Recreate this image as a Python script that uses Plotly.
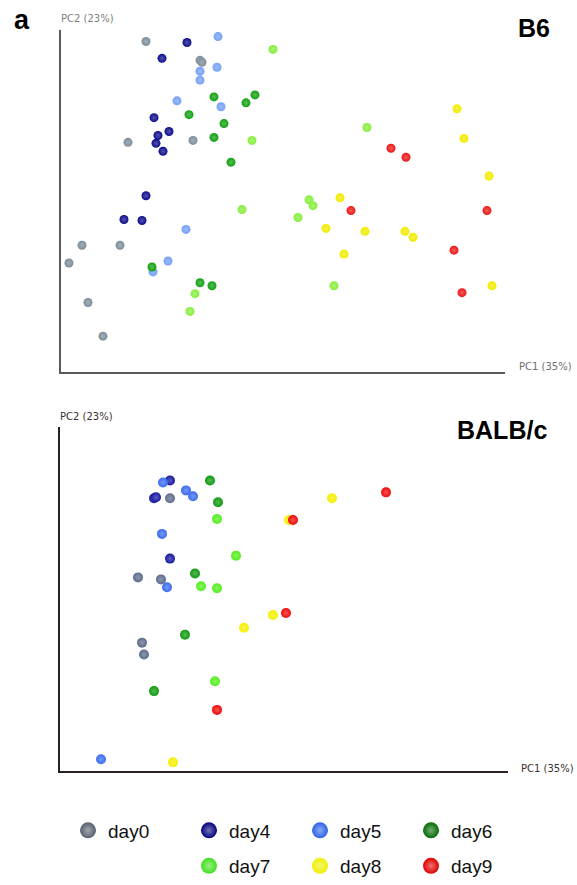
import plotly.graph_objects as go

W, H = 577, 885

days = ["day0", "day4", "day5", "day6", "day7", "day8", "day9"]

# ---- B6 panel: PC1 / PC2 scores (arbitrary units) ----
b6_pc1 = {
    "day0": [85, 139, 141, 67, 132, 21, 59, 8, 27, 42],
    "day4": [126, 101, 93, 108, 97, 95, 102, 85, 63, 81],
    "day5": [157, 156, 139, 139, 116, 160, 125, 107, 92],
    "day6": [153, 194, 185, 128, 163, 153, 170, 91, 139, 151],
    "day7": [212, 191, 306, 181, 237, 248, 252, 134, 129, 273],
    "day8": [396, 403, 428, 279, 265, 304, 344, 352, 283, 431],
    "day9": [330, 345, 290, 426, 393, 401],
}
b6_pc2 = {
    "day0": [334, 315, 313, 232, 234, 128, 128, 110, 70, 36],
    "day4": [333, 317, 257, 243, 239, 231, 223, 178, 154, 153],
    "day5": [339, 308, 304, 295, 274, 268, 144, 112, 101],
    "day6": [278, 280, 272, 260, 251, 237, 212, 106, 90, 87],
    "day7": [326, 234, 247, 164, 156, 174, 168, 79, 61, 87],
    "day8": [266, 236, 198, 176, 145, 142, 142, 136, 119, 87],
    "day9": [226, 217, 163, 163, 123, 80],
}

# ---- BALB/c panel ----
balb_pc1 = {
    "day0": [110, 78, 101, 82, 84],
    "day4": [110, 94, 96, 110],
    "day5": [103, 126, 133, 102, 107, 41],
    "day6": [150, 158, 135, 125, 94],
    "day7": [157, 176, 141, 157, 155],
    "day8": [229, 272, 213, 184, 113],
    "day9": [233, 326, 226, 157],
}
balb_pc2 = {
    "day0": [276, 196, 194, 130, 118],
    "day4": [294, 276, 277, 215],
    "day5": [292, 284, 278, 240, 186, 12],
    "day6": [294, 272, 200, 138, 81],
    "day7": [255, 218, 187, 185, 91],
    "day8": [254, 276, 158, 145, 9],
    "day9": [254, 282, 160, 62],
}

b6_colors = {"day0": "#7c8d99", "day4": "#0c0c8c", "day5": "#74a0f6", "day6": "#12a012",
             "day7": "#86ee3c", "day8": "#f2ec00", "day9": "#ee1616"}
balb_colors = {"day0": "#5d6b8c", "day4": "#1818a4", "day5": "#3a6cf0", "day6": "#0f9a0f",
               "day7": "#55ee20", "day8": "#f5f000", "day9": "#f00a0a"}
legend_colors = {"day0": "#56616d", "day4": "#02027e", "day5": "#2d62e8", "day6": "#046a04",
                 "day7": "#42e020", "day8": "#f0f000", "day9": "#e00000"}


def lighten(hexc, f):
    h = hexc.lstrip("#")
    r, g, b = (int(h[i:i + 2], 16) for i in (0, 2, 4))
    r, g, b = (int(c + (255 - c) * f) for c in (r, g, b))
    return "#%02x%02x%02x" % (r, g, b)


fig = go.Figure()

for d in days:
    fig.add_trace(go.Scatter(
        x=b6_pc1[d], y=b6_pc2[d], mode="markers", name=d, showlegend=False,
        xaxis="x", yaxis="y", cliponaxis=False, hoverinfo="skip",
        marker=dict(size=9, color=b6_colors[d], line=dict(width=0),
                    gradient=dict(type="radial", color=lighten(b6_colors[d], 0.3))),
    ))
for d in days:
    fig.add_trace(go.Scatter(
        x=balb_pc1[d], y=balb_pc2[d], mode="markers", name=d, showlegend=False,
        xaxis="x2", yaxis="y2", cliponaxis=False, hoverinfo="skip",
        marker=dict(size=10, color=balb_colors[d], line=dict(width=0),
                    gradient=dict(type="radial", color=lighten(balb_colors[d], 0.3))),
    ))

# legend-only entries
legend_of = {"day0": "legend", "day4": "legend2", "day5": "legend2", "day6": "legend2",
             "day7": "legend3", "day8": "legend3", "day9": "legend3"}
for d in days:
    fig.add_trace(go.Scatter(
        x=[None], y=[None], mode="markers", name=d, legend=legend_of[d],
        xaxis="x2", yaxis="y2",
        marker=dict(size=16, color=legend_colors[d], line=dict(width=0),
                    gradient=dict(type="radial", color=lighten(legend_colors[d], 0.45))),
    ))

ax_common = dict(showline=True, linewidth=2, showgrid=False, zeroline=False,
                 showticklabels=False, ticks="", fixedrange=True)

leg_common = dict(orientation="h", font=dict(family="Arial, Liberation Sans", size=19, color="#111"),
                  bgcolor="rgba(0,0,0,0)", borderwidth=0, itemsizing="trace",
                  entrywidthmode="pixels", entrywidth=66, xanchor="left", yanchor="middle",
                  itemclick=False, itemdoubleclick=False)

fig.update_layout(
    width=W, height=H, margin=dict(l=0, r=0, t=0, b=0),
    paper_bgcolor="white", plot_bgcolor="white", hovermode=False,
    xaxis=dict(domain=[61 / W, 505 / W], range=[0, 444], anchor="y", linecolor="#5a5a5a", **ax_common),
    yaxis=dict(domain=[1 - 376 / H, 1 - 30 / H], range=[0, 346], anchor="x", linecolor="#5a5a5a", **ax_common),
    xaxis2=dict(domain=[60 / W, 508 / W], range=[0, 448], anchor="y2", linecolor="#2a2222", **ax_common),
    yaxis2=dict(domain=[1 - 780 / H, 1 - 432 / H], range=[0, 348], anchor="x2", linecolor="#2a2222", **ax_common),
    legend=dict(x=68 / W, y=1 - 840 / H, **leg_common),
    legend2=dict(x=189 / W, y=1 - 840 / H, **leg_common),
    legend3=dict(x=189 / W, y=1 - 876 / H, **leg_common),
)

label_font = dict(family="DejaVu Sans", size=10)
annos = [
    dict(text="<b>a</b>", x=12 / W, y=1 - 20 / H, xanchor="left", yanchor="middle",
         font=dict(family="Arial, Liberation Sans", size=27, color="#000")),
    dict(text="<b>B6</b>", x=552 / W, y=1 - 28 / H, xanchor="right", yanchor="middle",
         font=dict(family="Arial, Liberation Sans", size=25, color="#000")),
    dict(text="<b>BALB/c</b>", x=549 / W, y=1 - 435 / H, xanchor="right", yanchor="middle",
         font=dict(family="Arial, Liberation Sans", size=25, color="#000")),
    dict(text="PC2 (23%)", x=59 / W, y=1 - 19 / H, xanchor="left", yanchor="middle",
         font=dict(color="#808080", **label_font)),
    dict(text="PC1 (35%)", x=517 / W, y=1 - 371 / H, xanchor="left", yanchor="middle",
         font=dict(color="#707070", **label_font)),
    dict(text="PC2 (23%)", x=58 / W, y=1 - 421 / H, xanchor="left", yanchor="middle",
         font=dict(color="#3a3030", **label_font)),
    dict(text="PC1 (35%)", x=519 / W, y=1 - 777 / H, xanchor="left", yanchor="middle",
         font=dict(color="#3a3030", **label_font)),
]
for a in annos:
    fig.add_annotation(xref="paper", yref="paper", showarrow=False, **a)

fig.write_html(
    "out.html",
    config={"displayModeBar": False, "responsive": False},
    post_script=("document.documentElement.style.margin='0';"
                 "document.documentElement.style.overflow='hidden';"
                 "document.body.style.margin='0';"
                 "document.body.style.overflow='hidden';"),
)
